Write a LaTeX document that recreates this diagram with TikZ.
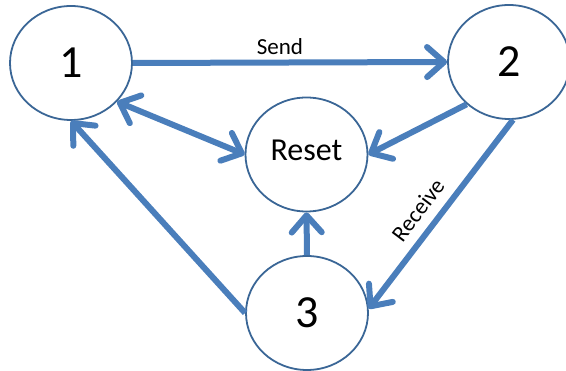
\documentclass[tikz,border=0pt]{standalone}
\usepackage{fontspec}
\setmainfont{Carlito}
\usetikzlibrary{shapes.geometric,arrows.meta}
\definecolor{ringblue}{HTML}{3A6696}
\definecolor{flowblue}{HTML}{4A7EBB}
\tikzset{
  state/.style={ellipse, draw=ringblue, line width=1.8pt, fill=white,
    minimum width=122pt, minimum height=114pt, inner sep=0pt},
  bigdigit/.style={font=\fontsize{46}{50}\selectfont},
  barb/.tip={Straight Barb[length=17pt,width=30pt,line cap=round,line join=round]},
  flow/.style={draw=flowblue, line width=6pt, -barb},
  twoway/.style={flow, barb-barb},
  tag/.style={font=\fontsize{23}{26}\selectfont, inner sep=0pt}
}
\begin{document}
\begin{tikzpicture}[x=1pt,y=-1pt]
  \useasboundingbox (0,0) rectangle (566,371);
  % states
  \node[state, bigdigit] (n1) at (71,63) {1};
  \node[state, bigdigit] (n2) at (509,62) {2};
  \node[state, font=\fontsize{32}{36}\selectfont, text depth=9pt] (rst) at (306.5,154.5) {Reset};
  \node[state, bigdigit] (n3) at (307,313) {3};
  % transitions
  \draw[flow] (n1.east) -- (n2.west);
  \draw[flow] (n2.225) -- (rst.east);
  \draw[flow] (n2.-86) -- (n3.4);
  \draw[twoway] (n1.-40) -- (rst.west);
  \draw[flow] (n3.west) -- (n1.south);
  \draw[flow] (n3.north) -- (rst.south);
  % labels
  \node[tag] (lsend) at (280,47) {Send};
  \node[tag, rotate=53] (lrecv) at (418,210) {Receive};
\end{tikzpicture}
\end{document}
